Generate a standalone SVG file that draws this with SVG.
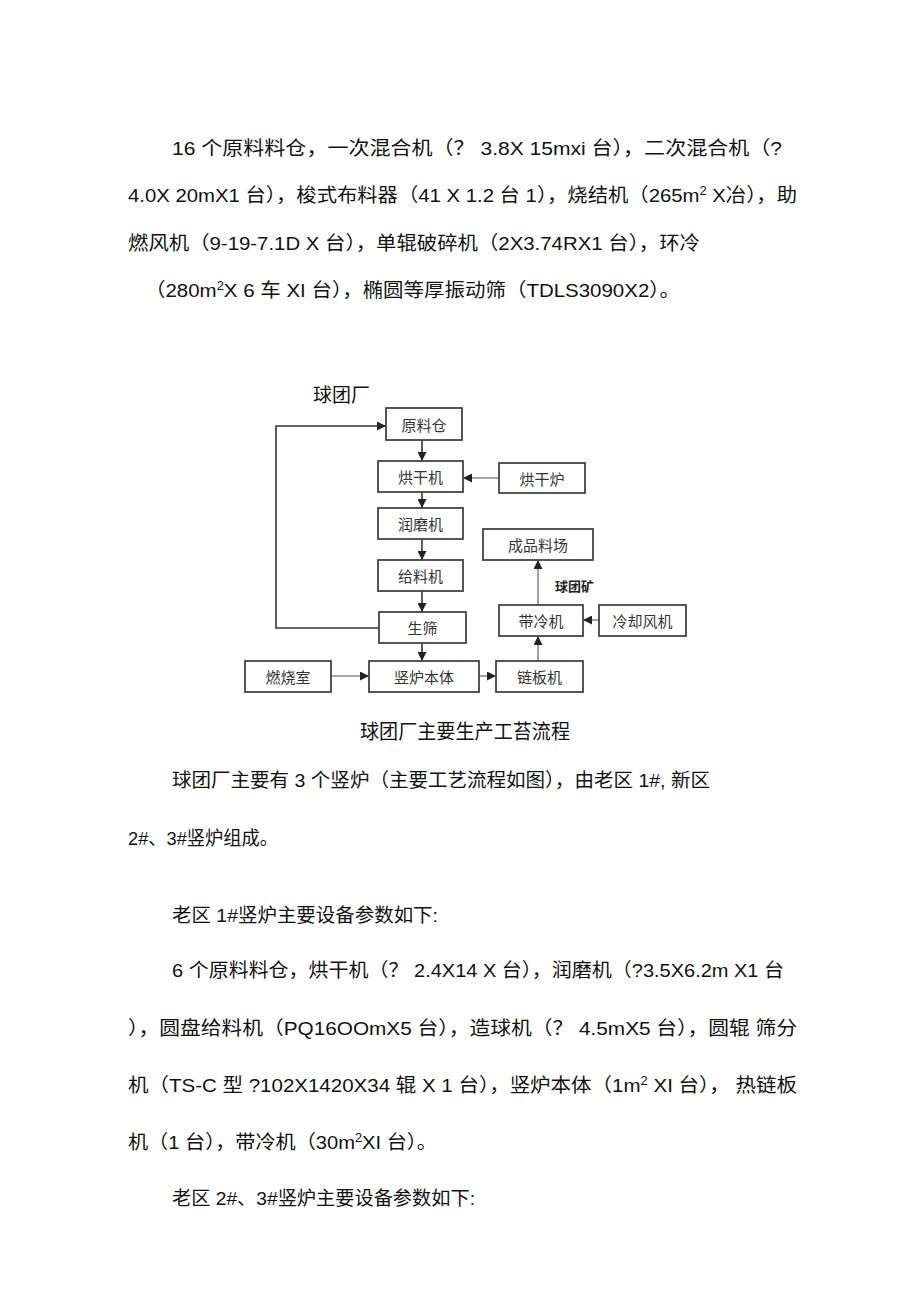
<svg xmlns="http://www.w3.org/2000/svg" width="920" height="1303" viewBox="0 0 920 1303">
<defs>
<marker id="ah" viewBox="0 0 10 10" refX="10" refY="5" markerWidth="9" markerHeight="9" markerUnits="userSpaceOnUse" orient="auto">
<path d="M0,0 L10,5 L0,10 z" fill="#222"/>
</marker>
</defs>
<style>
.p{font-family:"Liberation Sans","Noto Sans CJK SC",sans-serif;font-size:19px;fill:#111}
.box{fill:#fff;stroke:#444;stroke-width:1.8}
.lb{font-family:"Noto Sans CJK SC",sans-serif;font-size:15px;fill:#333;text-anchor:middle;dominant-baseline:central}
.ln{fill:none;stroke:#333;stroke-width:1.6}
.lg{fill:none;stroke:#888;stroke-width:1.6}
</style>
<rect width="920" height="1303" fill="#fff"/>
<g id="text-top">
<text class="p" x="172" y="155" textLength="610" lengthAdjust="spacingAndGlyphs">16 个原料料仓，一次混合机（？ 3.8X 15mxi 台），二次混合机（?</text>
<text class="p" x="128" y="202" textLength="669" lengthAdjust="spacingAndGlyphs">4.0X 20mX1 台），梭式布料器（41 X 1.2 台 1），烧结机（265m<tspan font-size="12" dy="-7">2</tspan><tspan dy="7"> X冶），助</tspan></text>
<text class="p" x="128" y="250" textLength="572" lengthAdjust="spacingAndGlyphs">燃风机（9-19-7.1D X 台），单辊破碎机（2X3.74RX1 台），环冷</text>
<text class="p" x="145" y="297" textLength="535" lengthAdjust="spacingAndGlyphs">（280m<tspan font-size="12" dy="-7">2</tspan><tspan dy="7">X 6 车 XI 台），椭圆等厚振动筛（TDLS3090X2）。</tspan></text>
</g>
<text id="title" x="313" y="402" font-family="Noto Sans CJK SC,sans-serif" font-size="19" fill="#111">球团厂</text>
<g id="connectors">
<path class="ln" d="M422,440 V461" marker-end="url(#ah)"/>
<path class="lg" d="M499,478 H463" marker-end="url(#ah)"/>
<path class="ln" d="M422,492 V508" marker-end="url(#ah)"/>
<path class="ln" d="M422,539 V560" marker-end="url(#ah)"/>
<path class="ln" d="M422,591 V612" marker-end="url(#ah)"/>
<path class="ln" d="M422,643 V661" marker-end="url(#ah)"/>
<path class="lg" d="M331,676 H369" marker-end="url(#ah)"/>
<path class="lg" d="M479,676 H496" marker-end="url(#ah)"/>
<path class="lg" d="M538,661 V636" marker-end="url(#ah)"/>
<path class="lg" d="M538,605 V560" marker-end="url(#ah)"/>
<path class="lg" d="M599,620 H583" marker-end="url(#ah)"/>
<path class="ln" d="M379,628 H276 V426 H386" marker-end="url(#ah)"/>
</g>
<g id="n-yuanliaocang"><rect class="box" x="386" y="408" width="76" height="32"/><text class="lb" x="424" y="424">原料仓</text></g>
<g id="n-hongganji"><rect class="box" x="378" y="461" width="85" height="31"/><text class="lb" x="420.5" y="476.5">烘干机</text></g>
<g id="n-honggan-lu"><rect class="box" x="499" y="463" width="86" height="30"/><text class="lb" x="542" y="478">烘干炉</text></g>
<g id="n-runmoji"><rect class="box" x="378" y="508" width="85" height="31"/><text class="lb" x="420.5" y="523.5">润磨机</text></g>
<g id="n-chengpin"><rect class="box" x="483" y="529" width="110" height="31"/><text class="lb" x="538" y="544.5">成品料场</text></g>
<g id="n-geiliaoji"><rect class="box" x="378" y="560" width="85" height="31"/><text class="lb" x="420.5" y="575.5">给料机</text></g>
<g id="n-shengshai"><rect class="box" x="379" y="612" width="87" height="31"/><text class="lb" x="422.5" y="627.5">生筛</text></g>
<g id="n-dailengji"><rect class="box" x="499" y="605" width="84" height="31"/><text class="lb" x="541" y="620.5">带冷机</text></g>
<g id="n-lengque"><rect class="box" x="599" y="605" width="87" height="31"/><text class="lb" x="642.5" y="620.5">冷却风机</text></g>
<g id="n-ranshao"><rect class="box" x="245" y="661" width="86" height="31"/><text class="lb" x="288" y="676.5">燃烧室</text></g>
<g id="n-shulu"><rect class="box" x="369" y="661" width="110" height="31"/><text class="lb" x="424" y="676.5">竖炉本体</text></g>
<g id="n-lianban"><rect class="box" x="496" y="661" width="87" height="31"/><text class="lb" x="539.5" y="676.5">链板机</text></g>
<text id="label-qiutuankuang" x="555" y="591" font-family="Noto Sans CJK SC,sans-serif" font-size="13" font-weight="bold" fill="#222">球团矿</text>
<text id="caption" x="360" y="739" font-family="Noto Sans CJK SC,sans-serif" font-size="20" fill="#111" textLength="210" lengthAdjust="spacingAndGlyphs">球团厂主要生产工苔流程</text>
<g id="text-bottom">
<text class="p" x="172" y="787" textLength="538" lengthAdjust="spacingAndGlyphs">球团厂主要有 3 个竖炉（主要工艺流程如图），由老区 1#, 新区</text>
<text class="p" x="128" y="845" textLength="150" lengthAdjust="spacingAndGlyphs">2#、3#竖炉组成。</text>
<text class="p" x="172" y="922" textLength="266" lengthAdjust="spacingAndGlyphs">老区 1#竖炉主要设备参数如下:</text>
<text class="p" x="172" y="977" textLength="612" lengthAdjust="spacingAndGlyphs">6 个原料料仓，烘干机（？ 2.4X14 X 台），润磨机（?3.5X6.2m X1 台</text>
<text class="p" x="128" y="1035" textLength="669" lengthAdjust="spacingAndGlyphs">），圆盘给料机（PQ16OOmX5 台），造球机（？ 4.5mX5 台），圆辊 筛分</text>
<text class="p" x="128" y="1092" textLength="669" lengthAdjust="spacingAndGlyphs">机（TS-C 型 ?102X1420X34 辊 X 1 台），竖炉本体（1m<tspan font-size="12" dy="-7">2</tspan><tspan dy="7"> XI 台）， 热链板</tspan></text>
<text class="p" x="128" y="1149" textLength="309" lengthAdjust="spacingAndGlyphs">机（1 台），带冷机（30m<tspan font-size="12" dy="-7">2</tspan><tspan dy="7">XI 台）。</tspan></text>
<text class="p" x="172" y="1205" textLength="303" lengthAdjust="spacingAndGlyphs">老区 2#、3#竖炉主要设备参数如下:</text>
</g>
</svg>
